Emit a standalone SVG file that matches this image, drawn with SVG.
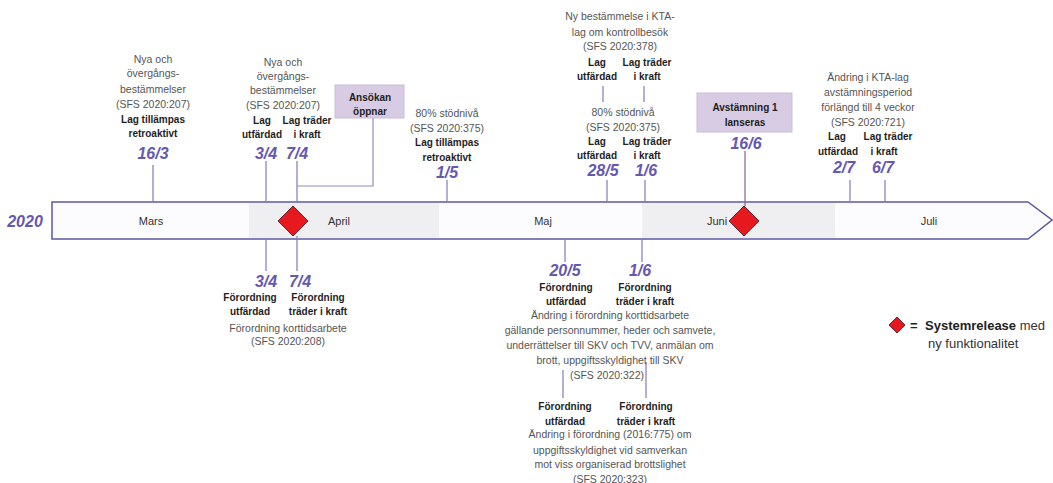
<svg xmlns="http://www.w3.org/2000/svg" width="1053" height="483" viewBox="0 0 1053 483">
<defs>
<style>
.g{font-family:"Liberation Sans",Arial,sans-serif;font-size:10.5px;fill:#555;text-anchor:middle}
.b{font-family:"Liberation Sans",Arial,sans-serif;font-size:10px;font-weight:bold;fill:#1e1e1e;text-anchor:middle}
.d{font-family:"Liberation Sans",Arial,sans-serif;font-size:16px;font-weight:bold;font-style:italic;fill:#6657b0;text-anchor:middle}
.m{font-family:"Liberation Sans",Arial,sans-serif;font-size:11px;fill:#333;text-anchor:middle}
.t{stroke:#7d7bbd;stroke-width:1.2;fill:none}
.box{fill:#d8cce4;stroke:#c9bcd8;stroke-width:1}
.dia{fill:#e8191e;stroke:#6a2535;stroke-width:1}
</style>
</defs>
<rect width="1053" height="483" fill="#ffffff"/>

<g id="timeline">
<path d="M52,202 L1028,202 L1052,220 L1028,239 L52,239 Z" fill="#fcfcfe" stroke="#5b58a0" stroke-width="1.5"/>
<rect x="249" y="203" width="190" height="35" fill="#efeff1"/>
<rect x="642" y="203" width="193" height="35" fill="#efeff1"/>
<text class="d" x="25" y="227">2020</text>
<text class="m" x="151" y="225">Mars</text>
<text class="m" x="339" y="225">April</text>
<text class="m" x="543" y="225">Maj</text>
<text class="m" x="717" y="225">Juni</text>
<text class="m" x="929" y="225">Juli</text>
</g>

<g id="connectors">
<line class="t" x1="153" y1="165" x2="153" y2="202"/>
<line class="t" x1="266" y1="161" x2="266" y2="202"/>
<line class="t" x1="297" y1="161" x2="297" y2="202"/>
<polyline points="297,186 373,186 373,118" fill="none" stroke="#9a88b8" stroke-width="1.2"/>
<line class="t" x1="447" y1="180" x2="447" y2="202"/>
<line class="t" x1="607" y1="180" x2="607" y2="202"/>
<line class="t" x1="645" y1="180" x2="645" y2="202"/>
<line class="t" x1="603" y1="86" x2="603" y2="102"/>
<line class="t" x1="644" y1="86" x2="644" y2="102"/>
<line x1="745" y1="151" x2="745" y2="206" stroke="#8c5f95" stroke-width="1.2"/>
<line class="t" x1="850" y1="180" x2="850" y2="202"/>
<line class="t" x1="885" y1="180" x2="885" y2="202"/>
<line class="t" x1="266" y1="239" x2="266" y2="271"/>
<line class="t" x1="297" y1="236" x2="297" y2="271"/>
<line class="t" x1="565" y1="239" x2="565" y2="262"/>
<line class="t" x1="642" y1="239" x2="642" y2="262"/>
<line class="t" x1="563" y1="370" x2="563" y2="398"/>
<line class="t" x1="646" y1="362" x2="646" y2="398"/>
</g>

<g id="release1">
<path class="dia" d="M293,206 L308,221 L293,236 L278,221 Z"/>
</g>
<g id="release2">
<path class="dia" d="M744,206 L759,221 L744,236 L729,221 Z"/>
</g>

<g id="n-16-3">
<text class="g" x="153" y="63">Nya och</text>
<text class="g" x="153" y="77">övergångs-</text>
<text class="g" x="153" y="93">bestämmelser</text>
<text class="g" x="153" y="108">(SFS 2020:207)</text>
<text class="b" x="153" y="123">Lag tillämpas</text>
<text class="b" x="153" y="137">retroaktivt</text>
<text class="d" x="153" y="159">16/3</text>
</g>

<g id="n-3-4-top">
<text class="g" x="283" y="66">Nya och</text>
<text class="g" x="283" y="80">övergångs-</text>
<text class="g" x="283" y="94">bestämmelser</text>
<text class="g" x="283" y="109">(SFS 2020:207)</text>
<text class="b" x="262" y="124">Lag</text>
<text class="b" x="262" y="138">utfärdad</text>
<text class="b" x="307" y="124">Lag träder</text>
<text class="b" x="307" y="138">i kraft</text>
<text class="d" x="266" y="159">3/4</text>
<text class="d" x="297" y="159">7/4</text>
</g>

<g id="n-ansokan">
<rect class="box" x="335" y="85" width="69" height="33"/>
<text class="b" x="370" y="101">Ansökan</text>
<text class="b" x="370" y="115">öppnar</text>
</g>

<g id="n-1-5">
<text class="g" x="447" y="117">80% stödnivå</text>
<text class="g" x="447" y="132">(SFS 2020:375)</text>
<text class="b" x="447" y="146">Lag tillämpas</text>
<text class="b" x="447" y="161">retroaktivt</text>
<text class="d" x="447" y="178">1/5</text>
</g>

<g id="n-kta-378">
<text class="g" x="620" y="20">Ny bestämmelse i KTA-</text>
<text class="g" x="620" y="36">lag om kontrollbesök</text>
<text class="g" x="620" y="50">(SFS 2020:378)</text>
<text class="b" x="597" y="66">Lag</text>
<text class="b" x="597" y="80">utfärdad</text>
<text class="b" x="647" y="66">Lag träder</text>
<text class="b" x="647" y="80">i kraft</text>
</g>

<g id="n-28-5">
<text class="g" x="623" y="116">80% stödnivå</text>
<text class="g" x="623" y="131">(SFS 2020:375)</text>
<text class="b" x="597" y="145">Lag</text>
<text class="b" x="597" y="159">utfärdad</text>
<text class="b" x="647" y="145">Lag träder</text>
<text class="b" x="647" y="159">i kraft</text>
<text class="d" x="603" y="176">28/5</text>
<text class="d" x="646" y="176">1/6</text>
</g>

<g id="n-avstamning">
<rect class="box" x="697" y="93" width="95" height="39"/>
<text class="b" x="745" y="111">Avstämning 1</text>
<text class="b" x="745" y="126">lanseras</text>
<text class="d" x="746" y="149">16/6</text>
</g>

<g id="n-2-7">
<text class="g" x="868" y="81">Ändring i KTA-lag</text>
<text class="g" x="868" y="96">avstämningsperiod</text>
<text class="g" x="868" y="111">förlängd till 4 veckor</text>
<text class="g" x="868" y="126">(SFS 2020:721)</text>
<text class="b" x="837" y="140">Lag</text>
<text class="b" x="838" y="155">utfärdad</text>
<text class="b" x="888" y="140">Lag träder</text>
<text class="b" x="884" y="155">i kraft</text>
<text class="d" x="844" y="173">2/7</text>
<text class="d" x="883" y="173">6/7</text>
</g>

<g id="n-3-4-bottom">
<text class="d" x="266" y="287">3/4</text>
<text class="d" x="300" y="287">7/4</text>
<text class="b" x="250" y="301">Förordning</text>
<text class="b" x="250" y="315">utfärdad</text>
<text class="b" x="318" y="301">Förordning</text>
<text class="b" x="318" y="315">träder i kraft</text>
<text class="g" x="288" y="332">Förordning korttidsarbete</text>
<text class="g" x="288" y="345">(SFS 2020:208)</text>
</g>

<g id="n-20-5">
<text class="d" x="565" y="276">20/5</text>
<text class="d" x="640" y="276">1/6</text>
<text class="b" x="566" y="291">Förordning</text>
<text class="b" x="566" y="305">utfärdad</text>
<text class="b" x="645" y="291">Förordning</text>
<text class="b" x="645" y="305">träder i kraft</text>
<text class="g" x="610" y="319">Ändring i förordning korttidsarbete</text>
<text class="g" x="610" y="334">gällande personnummer, heder och samvete,</text>
<text class="g" x="610" y="349">underrättelser  till SKV och TVV, anmälan om</text>
<text class="g" x="610" y="364">brott, uppgiftsskyldighet till SKV</text>
<text class="g" x="607" y="379">(SFS 2020:322)</text>
</g>

<g id="n-323">
<text class="b" x="565" y="410">Förordning</text>
<text class="b" x="565" y="425">utfärdad</text>
<text class="b" x="646" y="410">Förordning</text>
<text class="b" x="646" y="425">träder i kraft</text>
<text class="g" x="610" y="438">Ändring i förordning (2016:775) om</text>
<text class="g" x="610" y="454">uppgiftsskyldighet vid samverkan</text>
<text class="g" x="610" y="468">mot viss organiserad brottslighet</text>
<text class="g" x="610" y="483">(SFS 2020:323)</text>
</g>

<g id="legend">
<path class="dia" d="M897,317 L905,325 L897,333 L889,325 Z"/>
<text x="910" y="330" font-family="Liberation Sans, Arial, sans-serif" font-size="13" font-weight="bold" fill="#222">=</text>
<text x="925" y="330" font-family="Liberation Sans, Arial, sans-serif" font-size="13" fill="#333"><tspan font-weight="bold" fill="#222">Systemrelease</tspan> med</text>
<text x="928" y="348" font-family="Liberation Sans, Arial, sans-serif" font-size="13" fill="#333">ny funktionalitet</text>
</g>
</svg>
